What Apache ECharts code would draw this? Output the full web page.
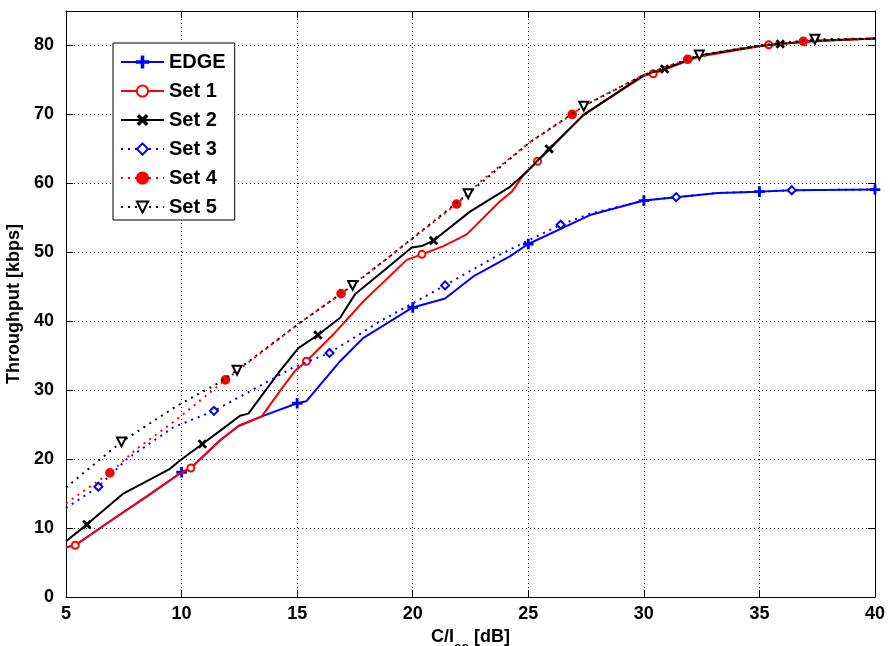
<!DOCTYPE html>
<html>
<head>
<meta charset="utf-8">
<script src="https://cdn.jsdelivr.net/npm/echarts@6/dist/echarts.min.js"></script>
<style>html,body{margin:0;padding:0;background:#fff}#c{width:890px;height:646px}</style>
</head>
<body>
<div id="c"></div>
<script>
// ---- data (x = C/Ico [dB], y = throughput [kbps]) ----
const seriesNames = ['EDGE', 'Set 1', 'Set 2', 'Set 3', 'Set 4', 'Set 5'];
const xTicks = [5, 10, 15, 20, 25, 30, 35, 40];
const yTicks = [0, 10, 20, 30, 40, 50, 60, 70, 80];

const edge = [[5,7.2],[5.4,7.5],[7,11.2],[8.5,14.6],[10,18.1],[10.4,18.7],[11.66,22.7],[12.46,24.8],[13.47,26.2],[15,28.1],[15.4,28.4],[15.85,30.2],[16.86,34.2],[17.87,37.6],[20,42.0],[21.4,43.3],[22.62,46.5],[24.2,49.4],[25,51.2],[27.67,55.4],[30,57.5],[31.4,58.0],[33.2,58.6],[35,58.8],[36.4,59.0],[40,59.1]];
const edgeMarks = [10,15,20,25,30,35,40];

const set1 = [[5,7.2],[5.4,7.5],[7,11.2],[8.5,14.6],[10,18.1],[10.4,18.7],[11.66,22.7],[12.46,24.8],[13.47,26.2],[14.26,29.9],[14.91,32.8],[15.4,34.2],[16.57,38.1],[17.87,42.9],[19.74,48.9],[20.4,49.7],[21.33,50.9],[22.34,52.6],[23.78,57.4],[24.29,58.8],[24.79,61.2],[25.4,63.2],[26,65.2],[27.4,70.0],[30,75.6],[30.4,75.9],[32.4,78.4],[35,79.9],[35.4,80.1],[37.4,80.6],[40,81.0]];
const set1Marks = [5.4,10.4,15.4,20.4,25.4,30.4,35.4];

const set2 = [[5,8.1],[5.9,10.5],[7.48,15.0],[9.5,18.6],[9.93,19.8],[10.9,22.2],[11.66,24.1],[12.53,26.3],[12.89,26.6],[14.26,32.8],[15.05,36.1],[15.9,38.0],[16.86,40.5],[17.5,43.9],[18.73,47.3],[19.96,50.7],[20.39,50.9],[20.9,51.7],[22.48,55.9],[24.21,59.5],[24.94,61.7],[25.9,65.0],[27.39,69.9],[29.98,75.7],[30.9,76.6],[32.36,78.5],[34.88,79.9],[35.9,80.2],[37.34,80.7],[40,81.0]];
const set2Marks = [5.9,10.9,15.9,20.9,25.9,30.9,35.9];

const set3 = [[5,12.9],[6.4,16.0],[7.63,20.0],[9.64,24.6],[11.4,27.0],[13.54,30.9],[14.84,33.3],[16.4,35.4],[18.59,40.0],[19.89,42.4],[21.4,45.2],[23.49,49.2],[24.93,51.6],[26.4,54.0],[27.67,55.6],[30,57.5],[31.4,58.0],[33.2,58.6],[35,58.8],[36.4,59.0],[40,59.1]];
const set3Marks = [6.4,11.4,16.4,21.4,26.4,31.4,36.4];

const set4 = [[5,13.6],[6.9,18.0],[8.06,21.5],[9.93,26.1],[11.9,31.5],[13.5,35.6],[15.05,39.6],[16.9,44.0],[19,49.4],[21.9,57.0],[22.91,60.2],[25.08,66.0],[26.9,70.0],[27.41,71.3],[29.98,75.7],[31.9,78.0],[34,79.5],[36.9,80.6],[40,81.0]];
const set4Marks = [6.9,11.9,16.9,21.9,26.9,31.9,36.9];

const set5 = [[5,15.9],[7.4,22.5],[9.79,27.7],[11.52,30.9],[12.4,32.9],[15.05,39.6],[17.4,45.2],[19,49.4],[22.4,58.5],[25.08,66.0],[27.4,71.2],[29.98,75.7],[32.4,78.6],[35,80.0],[37.4,80.9],[40,81.0]];
const set5Marks = [7.4,12.4,17.4,22.4,27.4,32.4,37.4];

// ---- styling / option building ----
const FONT = '"Liberation Sans", Arial, Helvetica, sans-serif';
const PLUS = 'path://M-0.55,-4H0.55V-0.55H4V0.55H0.55V4H-0.55V0.55H-4V-0.55H-0.55Z';

function build(points, marks) {
  return points.map(p => marks.some(m => Math.abs(m - p[0]) < 1e-6)
    ? { value: p } : { value: p, symbol: 'none' });
}

const specs = [
  { data: edge, marks: edgeMarks, color: '#0000ff', type: 'solid', symbol: PLUS, size: 9, rot: 0 },
  { data: set1, marks: set1Marks, color: '#ff0000', type: 'solid', symbol: 'emptyCircle', size: 7, rot: 0 },
  { data: set2, marks: set2Marks, color: '#000000', type: 'solid', symbol: PLUS, size: 9, rot: 45 },
  { data: set3, marks: set3Marks, color: '#0000ff', type: [2, 5], symbol: 'emptyDiamond', size: 8, rot: 0 },
  { data: set4, marks: set4Marks, color: '#ff0000', type: [2, 5], symbol: 'circle', size: 8, rot: 0 },
  { data: set5, marks: set5Marks, color: '#000000', type: [2, 5], symbol: 'emptyTriangle', size: 9, rot: 180 }
];

const series = specs.map((s, i) => ({
  name: seriesNames[i],
  type: 'line',
  xAxisIndex: 0, yAxisIndex: 0,
  data: build(s.data, s.marks),
  symbol: s.symbol,
  symbolSize: s.size,
  symbolRotate: s.rot,
  showSymbol: true,
  showAllSymbol: true,
  animation: false,
  z: 2 + i,
  lineStyle: { color: s.color, width: 2, type: s.type, cap: 'butt' },
  itemStyle: { color: s.color, borderColor: s.color, borderWidth: 1.6 },
  emphasis: { disabled: true }
}));

const gridLine = { show: true, lineStyle: { color: '#000', width: 1, type: [1, 3] } };
const tickIn = { show: true, inside: true, length: 7, lineStyle: { color: '#000', width: 1 } };
const axLine = { show: true, onZero: false, lineStyle: { color: '#000', width: 1 } };
const lblFont = { fontFamily: FONT, fontWeight: 'bold', fontSize: 18, color: '#000' };

const option = {
  backgroundColor: '#fff',
  animation: false,
  grid: { left: 66, right: 15, top: 11, bottom: 49, containLabel: false, outerBoundsMode: 'none' },
  legend: {
    data: seriesNames,
    orient: 'vertical',
    left: 113, top: 43,
    padding: [9, 9, 3, 7],
    itemGap: 9,
    itemWidth: 43, itemHeight: 14,
    backgroundColor: '#fff',
    borderColor: '#000', borderWidth: 1, borderRadius: 0,
    textStyle: { fontFamily: FONT, fontWeight: 'bold', fontSize: 20, color: '#000' },
    selectedMode: false
  },
  xAxis: [{
    type: 'value', min: xTicks[0], max: xTicks[xTicks.length - 1], interval: 5,
    position: 'bottom',
    axisLine: axLine, axisTick: tickIn, splitLine: gridLine,
    axisLabel: Object.assign({ margin: 8 }, lblFont),
    name: '{a|C/I}{s|co}{a| [dB]}',
    nameLocation: 'middle', nameGap: 21,
    nameTextStyle: {
      rich: {
        a: { fontFamily: FONT, fontWeight: 'bold', fontSize: 18, color: '#000', lineHeight: 20, verticalAlign: 'top' },
        s: { fontFamily: FONT, fontWeight: 'bold', fontSize: 13, color: '#000', lineHeight: 26, verticalAlign: 'bottom' }
      }
    }
  }, {
    type: 'value', min: xTicks[0], max: xTicks[xTicks.length - 1], interval: 5,
    position: 'top',
    axisLine: axLine, axisTick: tickIn, splitLine: { show: false },
    axisLabel: { show: false }
  }],
  yAxis: [{
    type: 'value', min: 0, max: 85, interval: 10,
    position: 'left',
    axisLine: axLine, axisTick: tickIn, splitLine: gridLine,
    axisLabel: Object.assign({ margin: 12, showMaxLabel: false,
      formatter: v => (yTicks.indexOf(v) >= 0 ? String(v) : '') }, lblFont),
    name: 'Throughput [kbps]',
    nameLocation: 'middle', nameGap: 36,
    nameTextStyle: { fontFamily: FONT, fontWeight: 'bold', fontSize: 18, color: '#000' }
  }, {
    type: 'value', min: 0, max: 85, interval: 10,
    position: 'right',
    axisLine: axLine, axisTick: tickIn, splitLine: { show: false },
    axisLabel: { show: false }
  }],
  series: series
};

const chart = echarts.init(document.getElementById('c'), null, { renderer: 'canvas' });
chart.setOption(option);
</script>
</body>
</html>
